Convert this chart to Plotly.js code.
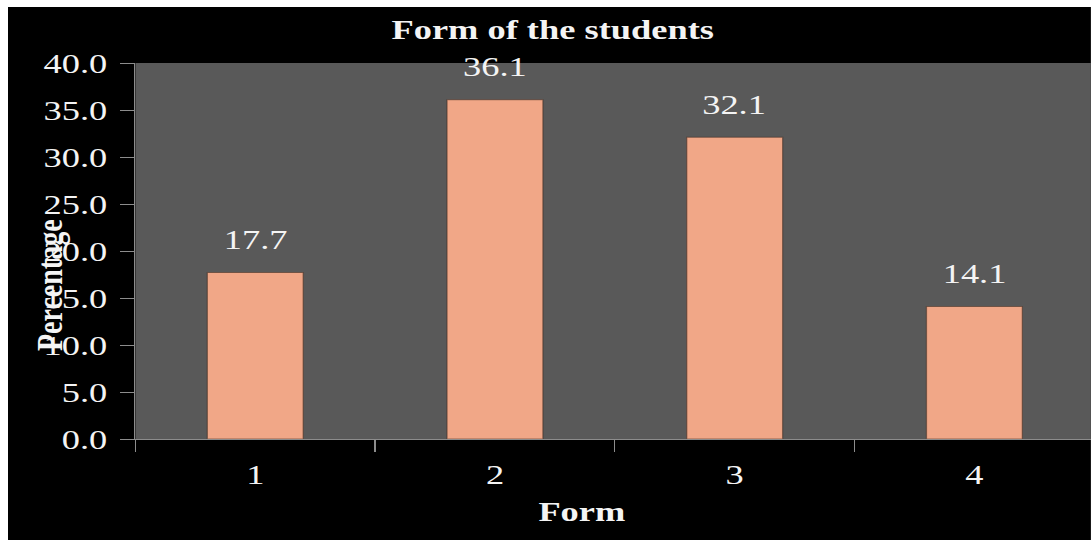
<!DOCTYPE html>
<html>
<head>
<meta charset="utf-8">
<script src="https://cdn.plot.ly/plotly-3.0.1.min.js"></script>
<style>
  html, body { margin: 0; padding: 0; background: #ffffff; width: 1091px; height: 540px; overflow: hidden; }
  #chart { position: absolute; left: 8px; top: 7px; width: 833px; height: 533px;
           transform: scaleX(1.3); transform-origin: 0 0; }
</style>
</head>
<body>
<div id="chart"></div>
<script>
// ---- data ----
const categories = ['1', '2', '3', '4'];
const percentages = [17.7, 36.1, 32.1, 14.1];
const yTickValues = [0, 5, 10, 15, 20, 25, 30, 35, 40];
const yTickLabels = ['0.0', '5.0', '10.0', '15.0', '20.0', '25.0', '30.0', '35.0', '40.0'];
const chartTitle = 'Form of the students';
const xTitle = 'Form';
const yTitle = 'Percentage';

const serif = 'Liberation Serif, Times New Roman, serif';
const textColor = '#f4f4f4';

const trace = {
  type: 'bar',
  x: categories,
  y: percentages,
  width: 0.4,
  marker: { color: '#f1a787', line: { color: 'rgba(70,45,35,0.55)', width: 1 } },
  hoverinfo: 'skip'
};

// category axis: annotation x given as category index
const labelAnnotations = categories.map((c, i) => ({
  x: i, y: percentages[i], xref: 'x', yref: 'y',
  text: percentages[i].toFixed(1),
  showarrow: false, yanchor: 'middle', yshift: 33,
  font: { family: serif, size: 28, color: textColor }
}));

const layout = {
  width: 833, height: 533,
  margin: { l: 98, r: 0, t: 56, b: 101, pad: 0 },
  paper_bgcolor: '#000000',
  plot_bgcolor: '#595959',
  showlegend: false,
  title: {
    text: '<b>' + chartTitle + '</b>',
    font: { family: serif, size: 28, color: textColor },
    xref: 'container', x: 0.503, xanchor: 'center',
    yref: 'container', y: 0.959, yanchor: 'middle'
  },
  xaxis: {
    type: 'category',
    range: [-0.5, 3.486],
    tickson: 'boundaries',
    ticks: 'outside', ticklen: 12, tickcolor: '#8c8c8c', tickwidth: 1,
    showline: true, linecolor: '#8c8c8c', linewidth: 1,
    showgrid: false, zeroline: false,
    tickfont: { family: serif, size: 28, color: textColor },
    ticklabelstandoff: 10
  },
  yaxis: {
    range: [0, 40],
    tickvals: yTickValues, ticktext: yTickLabels,
    ticks: 'outside', ticklen: 11, tickcolor: '#8c8c8c', tickwidth: 1,
    showline: true, linecolor: '#8c8c8c', linewidth: 1,
    showgrid: false, zeroline: false,
    tickfont: { family: serif, size: 28, color: textColor },
    ticklabelstandoff: 4
  },
  annotations: labelAnnotations.concat([
    { text: '<b>' + xTitle + '</b>', xref: 'paper', yref: 'paper', x: 0.468, y: -0.194,
      xanchor: 'center', yanchor: 'middle', showarrow: false,
      font: { family: serif, size: 28, color: textColor } },
    { text: '<b>' + yTitle + '</b>', xref: 'paper', yref: 'paper', x: -0.0895, y: 0.41,
      xanchor: 'center', yanchor: 'middle', showarrow: false, textangle: -90,
      font: { family: serif, size: 28, color: textColor } }
  ])
};

Plotly.newPlot('chart', [trace], layout, { displayModeBar: false, staticPlot: true });
</script>
</body>
</html>
